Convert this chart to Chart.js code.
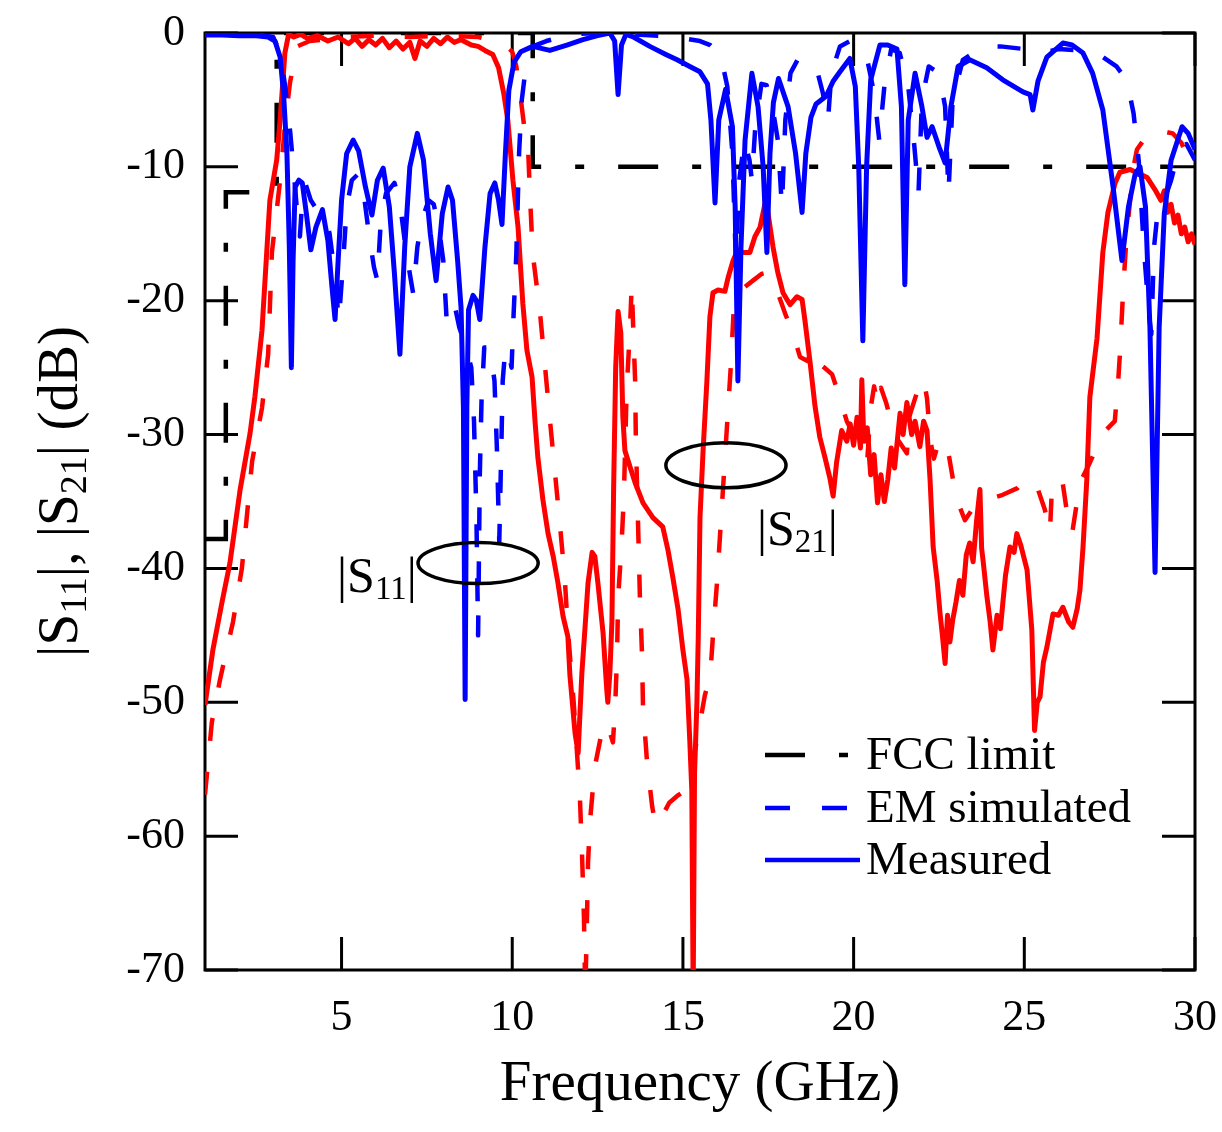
<!DOCTYPE html>
<html>
<head>
<meta charset="utf-8">
<script src="https://cdn.jsdelivr.net/npm/chart.js@4.4.0/dist/chart.umd.min.js"></script>
<style>
  html, body { margin: 0; padding: 0; background: #fff; }
  #wrap { width: 1222px; height: 1132px; }
</style>
</head>
<body>
<div id="wrap"><canvas id="c" width="1222" height="1132"></canvas></div>
<script>
// ---------------- DATA ----------------
const xTickVals = [5, 10, 15, 20, 25, 30];
const yTickVals = [0, -10, -20, -30, -40, -50, -60, -70];

// FCC indoor mask (normalised)
const fccFreq = [1, 1.61, 1.61, 3.1, 3.1, 10.6, 10.6, 30];
const fccDb   = [-37.8, -37.8, -11.9, -11.9, 0, 0, -10, -10];

// |S11| measured
const s11MeasFreq = [1.0,1.5,2.0,2.5,2.85,3.05,3.2,3.3,3.4,3.47,3.53,3.58,3.64,3.75,3.85,3.97,4.1,4.25,4.44,4.6,4.72,4.81,4.9,5.0,5.15,5.34,5.5,5.7,5.89,6.05,6.22,6.4,6.55,6.71,6.85,7.0,7.22,7.4,7.6,7.77,7.95,8.12,8.25,8.4,8.5,8.57,8.62,8.67,8.72,8.85,8.95,9.05,9.2,9.35,9.49,9.6,9.7,9.8,9.9,10.05,10.25,10.6,11.1,11.6,12.07,12.5,12.86,13.0,13.1,13.2,13.33,13.55,14.03,14.5,14.83,15.2,15.5,15.72,15.82,15.94,16.05,16.25,16.45,16.53,16.61,16.7,16.82,17.02,17.2,17.35,17.46,17.55,17.65,17.8,18.08,18.3,18.49,18.6,18.75,18.9,19.2,19.4,19.6,19.89,20.05,20.15,20.27,20.38,20.5,20.77,21.0,21.27,21.4,21.5,21.6,21.8,22.0,22.15,22.3,22.5,22.68,22.85,23.06,23.4,23.9,24.37,24.96,25.17,25.25,25.4,25.66,26.13,26.4,26.72,27.0,27.3,27.6,27.86,28.05,28.25,28.39,28.55,28.68,28.83,28.95,29.1,29.3,29.62,29.8,30.0];
const s11MeasDb   = [-0.15,-0.15,-0.2,-0.2,-0.3,-0.6,-1.8,-4.5,-9,-16,-25,-17,-11.5,-11,-11.2,-13.5,-16.2,-14.5,-13.2,-15.5,-19,-21.4,-17,-12.5,-9,-8.0,-8.8,-11.5,-13.6,-11,-10.1,-13,-18,-24,-16,-10,-7.5,-9.5,-15,-18.5,-13.5,-11.5,-12.5,-17,-20.5,-28,-49.8,-28,-20.7,-19.6,-20,-21.4,-16,-12,-11.2,-12.5,-14.3,-9,-4.3,-2.2,-1.4,-1.0,-1.3,-0.9,-0.5,-0.2,0,-0.6,-4.6,-0.9,-0.1,-0.3,-1.0,-1.6,-2.0,-2.5,-2.9,-3.8,-6.5,-12.7,-6.5,-4.2,-7,-13,-26,-16,-8,-3.0,-5.5,-10,-16.4,-9,-5.2,-3.4,-5.5,-9,-13.4,-9,-6.3,-5.3,-4.7,-3.6,-2.9,-1.9,-4,-10,-23,-10,-3.5,-0.9,-0.9,-1.2,-5.5,-18.8,-6.5,-3.0,-5.5,-7.8,-7.0,-8.5,-9.7,-5.5,-2.5,-2.0,-2.6,-3.5,-4.4,-4.6,-5.75,-3.6,-1.8,-0.75,-0.9,-1.5,-3.0,-5.75,-11.5,-17.0,-13,-10.5,-10.0,-13,-22,-40.3,-22,-13.5,-9.5,-7.0,-7.5,-8.7];

// |S11| EM simulated
const s11SimFreq = [1.0,2.5,3.0,3.2,3.35,3.5,3.62,3.72,3.78,3.85,3.95,4.1,4.3,4.5,4.65,4.8,4.92,5.05,5.15,5.3,5.5,5.65,5.8,5.95,6.05,6.15,6.3,6.55,6.7,6.85,7.0,7.1,7.22,7.35,7.55,7.7,7.85,7.98,8.08,8.2,8.3,8.45,8.65,8.8,8.88,8.95,9.0,9.05,9.1,9.18,9.35,9.48,9.55,9.62,9.68,9.72,9.8,9.9,9.98,10.04,10.12,10.2,10.28,10.4,10.6,11.0,11.7,12.5,13.5,14.3,15.0,15.5,15.8,16.1,16.3,16.45,16.55,16.65,16.8,16.95,17.02,17.12,17.3,17.45,17.62,17.78,17.9,18.0,18.15,18.4,18.7,18.95,19.1,19.25,19.35,19.6,19.9,20.15,20.4,20.6,20.75,20.9,21.1,21.35,21.6,21.78,21.9,22.0,22.2,22.5,22.68,22.78,22.9,23.2,23.8,24.3,25.0,25.5,26.0,26.7,27.3,27.7,28.0,28.2,28.35,28.5,28.65,28.72,28.8,28.9,29.1,29.3,29.55,29.75,30.0];
const s11SimDb   = [-0.1,-0.1,-0.3,-1.5,-4,-7.5,-11,-14,-15.2,-12.5,-11.3,-12.5,-13.3,-13.5,-15,-18,-21.5,-17,-13,-11,-10.5,-12,-15,-17.5,-18.5,-14,-12,-11.2,-12.5,-15.5,-18,-19.5,-16,-14,-12.5,-12.8,-14.5,-17,-21.5,-20.5,-20.2,-22,-23.5,-25,-29,-36,-45,-33,-27.5,-23.5,-23.5,-26,-31,-38,-31,-26,-23.5,-24,-25,-21,-16.5,-9,-5,-2.5,-1.0,-0.6,-0.1,0,-0.1,-0.2,-0.4,-0.6,-0.9,-1.6,-4,-9,-17,-11,-8,-9.5,-11,-7,-3.8,-3.9,-5.5,-8,-13,-6.5,-3,-1.8,-2.3,-3,-4.5,-6.5,-3,-1.0,-0.6,-1.0,-2.0,-4.5,-8,-4,-1.2,-1.5,-4,-8.5,-12,-5,-2.5,-3,-5.5,-12,-5,-2,-1,-1,-1.2,-1.5,-1.2,-1.3,-1.8,-2.5,-3.5,-6,-9.5,-16,-21,-22.5,-16,-13.5,-12.5,-11,-8.5,-8.3,-9.5];

// |S21| measured
const s21MeasFreq = [1.0,1.23,1.5,1.73,2.03,2.32,2.46,2.67,2.9,3.1,3.2,3.34,3.45,3.6,3.8,4.0,4.3,4.6,4.9,5.2,5.4,5.6,5.8,6.0,6.2,6.4,6.6,6.8,7.0,7.15,7.3,7.5,7.7,7.9,8.1,8.3,8.5,8.8,9.0,9.2,9.43,9.6,9.75,9.87,10.02,10.17,10.31,10.43,10.58,10.67,10.75,10.9,11.05,11.2,11.34,11.49,11.63,11.69,11.84,11.93,12.04,12.13,12.22,12.34,12.42,12.51,12.66,12.77,12.8,12.86,12.92,12.97,13.03,13.1,13.18,13.24,13.3,13.45,13.6,13.83,14.12,14.41,14.56,14.7,14.86,15.0,15.12,15.2,15.26,15.3,15.34,15.41,15.45,15.5,15.59,15.7,15.79,15.88,16.03,16.23,16.32,16.47,16.61,16.76,16.96,17.11,17.26,17.4,17.49,17.64,17.78,17.93,18.14,18.34,18.49,18.57,18.72,18.87,19.01,19.16,19.3,19.4,19.5,19.65,19.8,19.9,20.0,20.1,20.2,20.24,20.3,20.4,20.5,20.6,20.7,20.8,20.9,21.0,21.1,21.2,21.36,21.45,21.56,21.7,21.8,21.94,22.05,22.15,22.24,22.33,22.45,22.53,22.6,22.68,22.75,22.82,22.9,23.0,23.1,23.2,23.3,23.4,23.5,23.6,23.7,23.75,23.8,23.9,24.0,24.08,24.2,24.3,24.37,24.45,24.58,24.7,24.78,24.9,25.08,25.22,25.3,25.38,25.46,25.56,25.66,25.84,26.0,26.13,26.3,26.42,26.55,26.63,26.72,26.83,26.92,27.13,27.3,27.45,27.66,27.8,28.1,28.35,28.6,28.85,29.0,29.1,29.2,29.3,29.4,29.5,29.6,29.7,29.8,29.9,30.0];
const s21MeasDb   = [-50.2,-46.1,-42.5,-39.6,-34.1,-29.9,-27.2,-22.2,-12.5,-9.5,-6.5,-1.5,-0.1,-0.3,-0.1,-0.4,-0.2,-0.6,-0.3,-0.8,-0.4,-1.0,-0.5,-0.9,-0.4,-1.1,-0.6,-1.2,-0.7,-1.9,-0.6,-1.0,-0.4,-0.8,-0.3,-0.7,-0.5,-0.9,-1.0,-1.3,-1.6,-2.6,-4.5,-6.5,-11,-14.5,-20.2,-23.7,-25.7,-29.1,-31.7,-34.9,-37.4,-39.1,-41.1,-43.6,-45.1,-48,-52.3,-53.8,-47.8,-44.5,-41.1,-38.8,-39.1,-41.1,-44.8,-49.1,-50,-47.8,-44,-34,-25,-20.8,-22.4,-28.7,-31.2,-32.4,-33.6,-35.1,-36.2,-36.9,-38.6,-40.6,-43.1,-46.1,-48.3,-52.8,-56.6,-72,-55.3,-50,-45,-36.2,-31.2,-26.1,-21.2,-19.4,-19.2,-19.3,-18.3,-17,-16.2,-16.4,-16.4,-15.2,-14.5,-12.8,-13.4,-16,-17.9,-19.4,-20.3,-19.7,-19.9,-21.4,-24.5,-27.9,-30.2,-31.7,-33.2,-34.6,-32.1,-29.7,-30.5,-29.2,-30.8,-28.7,-31,-25.9,-30.5,-29.5,-33,-31.5,-35.1,-33,-35,-33.4,-31,-32.5,-28.4,-30,-27.6,-30,-29,-30.9,-29,-29.7,-33.4,-38.4,-41,-43.3,-45,-47.1,-43.5,-45.5,-43.9,-42.5,-40.9,-42,-39,-38.1,-39.5,-36.5,-34.1,-38.5,-39.6,-42,-44,-46.1,-43.5,-44.5,-42.6,-40.5,-38.4,-38.8,-37.4,-38.3,-40.1,-44.6,-52.1,-50,-49.6,-47,-45.9,-43.4,-43.5,-42.9,-44,-44.4,-43,-41.6,-38.4,-33.4,-27.2,-22.8,-16.4,-13.4,-11.2,-10.4,-10.2,-10.5,-10.8,-11.8,-12.5,-11.8,-13.4,-12.8,-14.2,-13.6,-15,-14.5,-15.6,-15,-15.8];

// |S21| EM simulated
const s21SimFreq = [1.0,1.2,1.44,1.82,2.08,2.23,2.38,2.67,2.85,2.96,3.2,3.34,3.49,3.7,4.07,4.5,5.0,6.0,7.0,8.0,9.0,9.55,9.8,10.0,10.12,10.23,10.35,10.47,10.53,10.6,10.81,10.96,11.1,11.25,11.4,11.54,11.63,11.8,11.98,12.04,12.1,12.14,12.19,12.22,12.28,12.42,12.6,12.77,12.95,13.02,13.07,13.1,13.2,13.27,13.35,13.45,13.5,13.55,13.6,13.62,13.66,13.7,13.74,13.8,13.83,13.95,14.1,14.2,14.33,14.6,14.83,15.12,15.4,15.64,15.8,15.88,16.0,16.1,16.2,16.3,16.4,16.48,16.6,16.8,17.05,17.3,17.46,17.6,17.75,18.0,18.22,18.43,18.65,18.8,19.1,19.37,19.55,19.8,20.0,20.2,20.4,20.5,20.6,20.7,20.8,20.95,21.15,21.3,21.56,21.65,21.85,22.05,22.15,22.25,22.35,22.5,22.7,22.8,23.0,23.26,23.5,23.85,24.37,24.8,25.1,25.4,25.6,25.75,25.8,26.1,26.25,26.4,26.63,26.92,27.3,27.65,27.75,27.8,27.9,28.0,28.2,28.3,28.55,28.8,29.35,29.6,29.8,30.0];
const s21SimDb   = [-56.9,-51.5,-48.3,-44,-40,-36,-32,-28,-24,-16.4,-11,-7,-3.7,-1.0,-0.6,-0.5,-0.3,-0.2,-0.3,-0.2,-0.3,-0.6,-0.9,-1.4,-2.5,-4.5,-7,-9,-12.7,-16.5,-20.8,-24.9,-28.8,-32.8,-36.8,-40.8,-44.6,-50,-57,-61,-66,-72,-66,-62,-58.8,-54.8,-52.5,-51.5,-53,-50,-46.5,-42.3,-38.3,-34.6,-26.8,-22,-18.8,-22.5,-26,-30.2,-34.2,-38.1,-42.2,-46.3,-50.3,-54.5,-57.8,-59.2,-58.8,-57.5,-57,-56.5,-53,-49.5,-48,-45,-41,-37,-33,-29,-25,-21,-19.5,-19,-18.5,-18,-17.9,-18.3,-19.2,-21,-22.4,-24.2,-24.5,-23.5,-24.9,-25.5,-26.9,-29,-30,-30.6,-31.9,-28,-26.4,-27.8,-26.5,-27.6,-29.5,-30.4,-31.4,-28.5,-26.9,-25.8,-27.3,-30.5,-31.8,-30.5,-30.5,-31.7,-34.7,-36.4,-35.5,-34.9,-34.5,-34,-33.2,-34.1,-35.6,-37.3,-34.5,-33.2,-35.8,-37.4,-33.6,-32.1,-29.9,-29,-26,-24,-19,-15,-10,-8.7,-7.8,-7.2,-7.5,-8.2,-9.3,-9.7];

// Legend entries and annotations (texts)
const legendLabels = ['FCC limit', 'EM simulated', 'Measured'];
const annotations = [
  { main: 'S', sub: '11', cx: 9.0,   cy: -39.6, rx: 1.76, ry: 1.53, lx: 4.87,  ly: -41.76 },
  { main: 'S', sub: '21', cx: 16.26, cy: -32.3, rx: 1.76, ry: 1.68, lx: 17.17, ly: -38.25 }
];

// ---------------- STYLE ----------------
const SERIF = '"Liberation Serif", "Times New Roman", serif';
const BLUE = '#0000ff', RED = '#ff0000', BLACK = '#000000';
const FCC_DASH = [40, 34, 9, 34];
const SIM_DASH = [23, 31];
const AREA = { left: 205, top: 33, right: 1195, bottom: 970 };

function pts(xs, ys) { return xs.map((v, i) => ({ x: v, y: ys[i] })); }

function drawSubText(ctx, parts, x, y, mainSize, subSize, subDrop) {
  let cx = x;
  parts.forEach(([t, sub]) => {
    ctx.font = (sub ? subSize : mainSize) + 'px ' + SERIF;
    ctx.fillText(t, cx, y + (sub ? subDrop : 0));
    cx += ctx.measureText(t).width;
  });
  return cx - x;
}
function measureSubText(ctx, parts, mainSize, subSize) {
  let w = 0;
  parts.forEach(([t, sub]) => {
    ctx.font = (sub ? subSize : mainSize) + 'px ' + SERIF;
    w += ctx.measureText(t).width;
  });
  return w;
}

const decorPlugin = {
  id: 'decor',
  beforeDatasetsDraw(chart) {
    const { ctx, chartArea: a, scales: { x, y } } = chart;
    ctx.save();
    ctx.strokeStyle = BLACK;
    ctx.lineWidth = 3;
    ctx.strokeRect(a.left, a.top, a.right - a.left, a.bottom - a.top);
    const L = 33;
    ctx.beginPath();
    xTickVals.forEach(v => {
      const px = x.getPixelForValue(v);
      ctx.moveTo(px, a.bottom); ctx.lineTo(px, a.bottom - L);
      ctx.moveTo(px, a.top); ctx.lineTo(px, a.top + L);
    });
    yTickVals.forEach(v => {
      const py = y.getPixelForValue(v);
      ctx.moveTo(a.left, py); ctx.lineTo(a.left + L, py);
      ctx.moveTo(a.right, py); ctx.lineTo(a.right - L, py);
    });
    ctx.stroke();
    ctx.restore();
  },
  afterDraw(chart) {
    const { ctx, chartArea: a, scales: { x, y } } = chart;
    ctx.save();
    ctx.fillStyle = BLACK;
    ctx.strokeStyle = BLACK;
    ctx.textBaseline = 'alphabetic';
    ctx.textAlign = 'left';
    annotations.forEach(an => {
      const cx = x.getPixelForValue(an.cx), cy = y.getPixelForValue(an.cy);
      const rx = Math.abs(x.getPixelForValue(an.cx + an.rx) - cx);
      const ry = Math.abs(y.getPixelForValue(an.cy + an.ry) - cy);
      ctx.lineWidth = 3.5;
      ctx.beginPath();
      ctx.ellipse(cx, cy, rx, ry, 0, 0, Math.PI * 2);
      ctx.stroke();
      const lx = x.getPixelForValue(an.lx), ly = y.getPixelForValue(an.ly);
      drawSubText(ctx, [['|' + an.main, false], [an.sub, true], ['|', false]], lx, ly, 50, 33, 7);
    });

    // legend
    const lgX0 = 765, lgX1 = 860, lgTextX = 866;
    const rows = [755, 808, 860];
    const styles = [
      { color: BLACK, dash: FCC_DASH },
      { color: BLUE, dash: [25, 32] },
      { color: BLUE, dash: [] }
    ];
    rows.forEach((ry, i) => {
      ctx.save();
      ctx.strokeStyle = styles[i].color;
      ctx.lineWidth = 4.5;
      ctx.setLineDash(styles[i].dash);
      ctx.beginPath();
      ctx.moveTo(lgX0, ry); ctx.lineTo(lgX1, ry);
      ctx.stroke();
      ctx.restore();
      ctx.font = '47px ' + SERIF;
      ctx.textBaseline = 'middle';
      ctx.fillText(legendLabels[i], lgTextX, ry + 2);
    });

    // y-axis title with subscripts
    const parts = [['|S', false], ['11', true], ['|, |S', false], ['21', true], ['| (dB)', false]];
    const mainS = 57, subS = 38;
    const w = measureSubText(ctx, parts, mainS, subS);
    ctx.save();
    ctx.translate(77, (a.top + a.bottom) / 2 - 10);
    ctx.rotate(-Math.PI / 2);
    ctx.textBaseline = 'alphabetic';
    drawSubText(ctx, parts, -w / 2, 0, mainS, subS, 9);
    ctx.restore();
    ctx.restore();
  }
};

function zeroPad(s) { s.paddingLeft = 0; s.paddingRight = 0; s.paddingTop = 0; s.paddingBottom = 0; }

const commonLine = { showLine: true, pointRadius: 0, pointHoverRadius: 0, borderWidth: 5, borderJoinStyle: 'round', fill: false, tension: 0 };

new Chart(document.getElementById('c'), {
  type: 'scatter',
  data: {
    datasets: [
      Object.assign({}, commonLine, { label: 'Measured |S11|', data: pts(s11MeasFreq, s11MeasDb), borderColor: BLUE, order: 1 }),
      Object.assign({}, commonLine, { label: 'EM simulated |S11|', data: pts(s11SimFreq, s11SimDb), borderColor: BLUE, borderDash: SIM_DASH, borderWidth: 4.5, order: 2 }),
      Object.assign({}, commonLine, { label: 'Measured |S21|', data: pts(s21MeasFreq, s21MeasDb), borderColor: RED, order: 3 }),
      Object.assign({}, commonLine, { label: 'EM simulated |S21|', data: pts(s21SimFreq, s21SimDb), borderColor: RED, borderDash: SIM_DASH, borderWidth: 4.5, order: 4 }),
      Object.assign({}, commonLine, { label: 'FCC limit', data: pts(fccFreq, fccDb), borderColor: BLACK, borderDash: FCC_DASH, borderWidth: 4.5, borderJoinStyle: 'miter', order: 5 })
    ]
  },
  options: {
    responsive: false,
    animation: false,
    events: [],
    layout: { autoPadding: false, padding: { top: AREA.top, right: 1222 - AREA.right, left: 0, bottom: 0 } },
    plugins: { legend: { display: false }, tooltip: { enabled: false } },
    scales: {
      x: {
        type: 'linear', min: 1, max: 30,
        afterBuildTicks: s => { s.ticks = xTickVals.map(v => ({ value: v })); },
        afterFit: s => { s.height = 1132 - AREA.bottom; zeroPad(s); },
        grid: { display: false, drawTicks: false },
        border: { display: false },
        ticks: { font: { family: SERIF, size: 44 }, color: BLACK, padding: 22, maxRotation: 0, autoSkip: false },
        title: { display: true, text: 'Frequency (GHz)', font: { family: SERIF, size: 57 }, color: BLACK, padding: { top: 0, bottom: 13 } }
      },
      y: {
        type: 'linear', min: -70, max: 0,
        afterBuildTicks: s => { s.ticks = yTickVals.map(v => ({ value: v })); },
        afterFit: s => { s.width = AREA.left; zeroPad(s); },
        grid: { display: false, drawTicks: false },
        border: { display: false },
        ticks: { font: { family: SERIF, size: 44 }, color: BLACK, padding: 20, autoSkip: false, callback: v => String(v) }
      }
    }
  },
  plugins: [decorPlugin]
});
</script>
</body>
</html>
